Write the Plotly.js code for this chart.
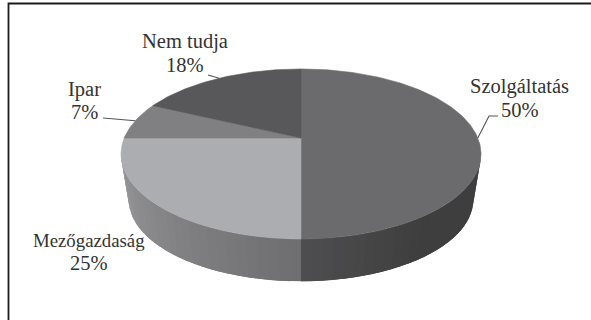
<!DOCTYPE html>
<html>
<head>
<meta charset="utf-8">
<script src="https://cdn.plot.ly/plotly-3.0.1.min.js"></script>
<style>html,body{margin:0;padding:0;background:#fff}#chart{width:591px;height:320px}</style>
</head>
<body>
<div id="chart"></div>
<script>
// Distribution of answers, clockwise from twelve o'clock
var categories = ["Szolgáltatás", "Mezőgazdaság", "Ipar", "Nem tudja"];
var shares = [50, 25, 7, 18];
var topColors = ["#6b6b6d", "#acadb0", "#808082", "#58585a"];
var sideStart = ["#4e4e50", "#6e6e70", "#808082", "#58585a"];
var sideEnd = ["#3e3e3e", "#98989a", "#808082", "#58585a"];
var labelX = [519.5, 89, 84, 185];
var nameY = [86, 240, 89, 41];
var shareY = [110, 263, 112, 65];
var nameSize = [20.5, 18.8, 20.5, 20.5];
var leaderEnds = [[[489, 116], [498, 116]], null, [[103, 118]], [[208, 75]]];

// Perspective projection of the disc onto the page, in pixel-like axis units
var view = {cx: 301, cy: 138, rx: 176.8, up: 82, tilt: 0.188};
var depth = {shift: 46, scale: 0.957};

function project(deg, lower) {
  var t = deg * Math.PI / 180, u = Math.sin(t), v = Math.cos(t);
  var w = 1 + view.tilt * v;
  var x = view.rx * u / w, y = -view.up * v / w;
  if (!lower) return [view.cx + x, view.cy + y];
  // the lower rim is a slightly smaller copy about the ellipse centre
  var midY = 16;
  return [view.cx + x * depth.scale, view.cy + midY + depth.shift + (y - midY) * depth.scale];
}
function hex(c) { return [1, 3, 5].map(function (i) { return parseInt(c.substr(i, 2), 16); }); }
function mix(a, b, f) {
  var p = hex(a), q = hex(b);
  return "rgb(" + p.map(function (c, i) { return Math.round(c + (q[i] - c) * f); }).join(",") + ")";
}

var total = shares.reduce(function (a, b) { return a + b; }, 0);
var edges = [0];
shares.forEach(function (s, i) { edges.push(edges[i] + s / total * 360); });

var traces = [];
function poly(pts, color, width) {
  traces.push({
    type: "scatter", mode: "lines", hoverinfo: "skip", showlegend: false,
    x: pts.map(function (p) { return p[0]; }), y: pts.map(function (p) { return p[1]; }),
    fill: "toself", fillcolor: color, line: {color: color, width: width}
  });
}

// Visible rim, from one silhouette tangent to the other; each strip runs on
// under the next one so no hairline shows between them
var rimFrom = 100.8, rimTo = 259.2, rimStep = 3;
shares.forEach(function (s, i) {
  var a = Math.max(edges[i], rimFrom), b = Math.min(edges[i + 1], rimTo);
  if (b <= a) return;
  var n = Math.ceil((b - a) / rimStep);
  for (var k = 0; k < n; k++) {
    var a0 = a + (b - a) * k / n, a1 = a + (b - a) * (k + 1) / n;
    // the shade runs away from the seam at six o'clock
    var f = Math.min(1, Math.abs((a0 + a1) / 2 - 180) / (i === 0 ? 35 : 79));
    var far = Math.min(b, a1 + rimStep);
    var c = Math.round((far - a0) / 0.5), strip = [];
    for (var j = 0; j <= c; j++) strip.push(project(a0 + (far - a0) * j / c));
    for (j = c; j >= 0; j--) strip.push(project(a0 + (far - a0) * j / c, true));
    strip.push(strip[0]);
    poly(strip, mix(sideStart[i], sideEnd[i], f), 0);
  }
});

// Top face
shares.forEach(function (s, i) {
  var pts = [[view.cx, view.cy]];
  for (var d = edges[i]; d < edges[i + 1]; d += 1) pts.push(project(d));
  pts.push(project(edges[i + 1]));
  pts.push([view.cx, view.cy]);
  poly(pts, topColors[i], 0.6);
});

// Leader lines start on the rim at each slice's middle
shares.forEach(function (s, i) {
  if (!leaderEnds[i]) return;
  var pts = [project((edges[i] + edges[i + 1]) / 2)].concat(leaderEnds[i]);
  traces.push({
    type: "scatter", mode: "lines", hoverinfo: "skip", showlegend: false,
    x: pts.map(function (p) { return p[0]; }), y: pts.map(function (p) { return p[1]; }),
    line: {color: "#555", width: 1.1}
  });
});

var annotations = [];
categories.forEach(function (name, i) {
  [[name, nameY[i], nameSize[i]], [shares[i] + "%", shareY[i], 20.5]].forEach(function (row) {
    annotations.push({
      x: labelX[i], y: row[1], xref: "x", yref: "y", text: row[0], showarrow: false,
      xanchor: "center", yanchor: "middle",
      font: {family: "Liberation Serif", size: row[2], color: "#333333"}
    });
  });
});

var layout = {
  width: 591, height: 320, margin: {l: 0, r: 0, t: 0, b: 0},
  paper_bgcolor: "#fff", plot_bgcolor: "#fff", showlegend: false,
  xaxis: {range: [0, 591], visible: false, fixedrange: true},
  yaxis: {range: [320, 0], visible: false, fixedrange: true},
  annotations: annotations,
  // the frame is open to the right and below
  shapes: [{type: "path", xref: "x", yref: "y", path: "M 8.5 320 L 8.5 3.5 L 591 3.5",
            line: {color: "#1c1c1c", width: 1.8}, layer: "below"}]
};
Plotly.newPlot("chart", traces, layout, {displayModeBar: false, staticPlot: true});
</script>
</body>
</html>
